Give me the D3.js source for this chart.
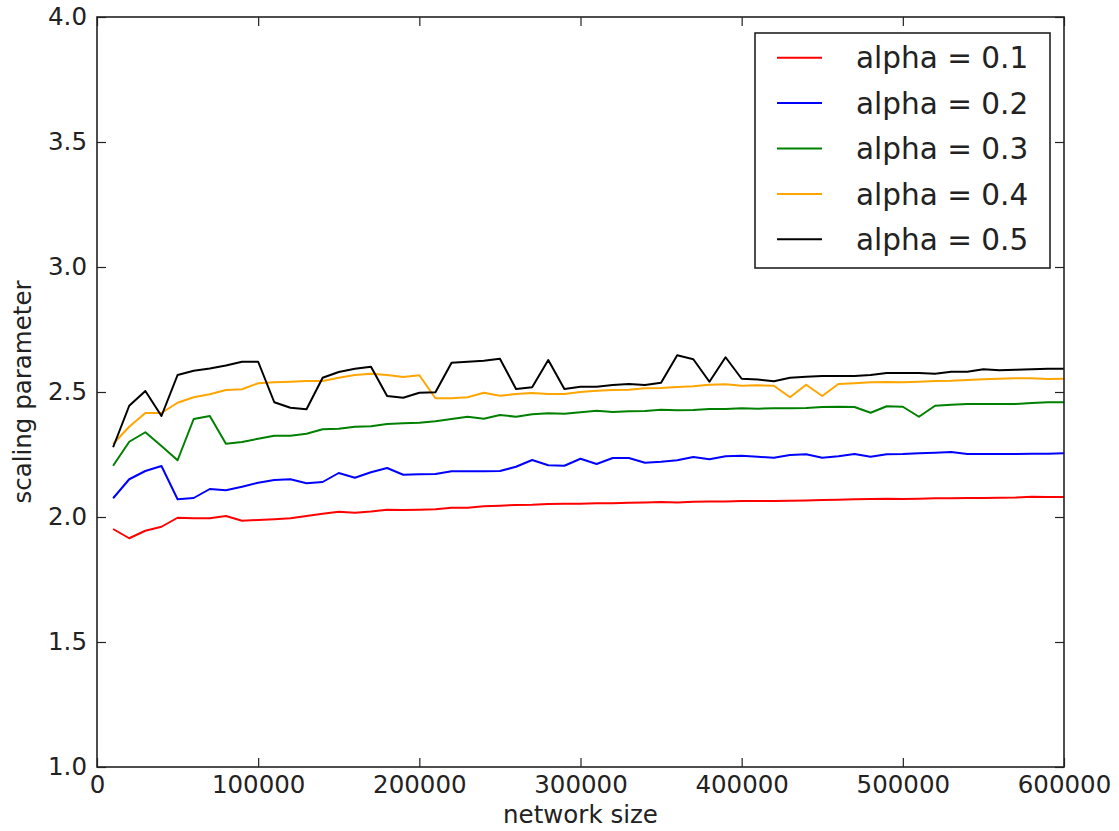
<!DOCTYPE html>
<html>
<head>
<meta charset="utf-8">
<script src="https://cdn.jsdelivr.net/npm/d3@7"></script>
<style>
  html, body { margin: 0; padding: 0; background: #fff; }
  svg { display: block; font-family: "DejaVu Sans", sans-serif; }
</style>
</head>
<body>
<svg id="chart" width="1119" height="831"></svg>
<script>
// Network sizes on the x axis
const networkSizes = [
  10000, 20000, 30000, 40000, 50000, 60000, 70000, 80000, 90000, 100000,
  110000, 120000, 130000, 140000, 150000, 160000, 170000, 180000, 190000, 200000,
  210000, 220000, 230000, 240000, 250000, 260000, 270000, 280000, 290000, 300000,
  310000, 320000, 330000, 340000, 350000, 360000, 370000, 380000, 390000, 400000,
  410000, 420000, 430000, 440000, 450000, 460000, 470000, 480000, 490000, 500000,
  510000, 520000, 530000, 540000, 550000, 560000, 570000, 580000, 590000, 600000
];

// Fitted scaling parameter for each alpha
const alpha01 = [
  1.952, 1.915, 1.945, 1.961, 1.997, 1.995, 1.995, 2.004, 1.985, 1.988,
  1.991, 1.995, 2.004, 2.013, 2.021, 2.017, 2.022, 2.029, 2.028, 2.029,
  2.031, 2.037, 2.037, 2.043, 2.045, 2.048, 2.049, 2.052, 2.053, 2.053,
  2.055, 2.055, 2.057, 2.058, 2.060, 2.058, 2.061, 2.062, 2.062, 2.064,
  2.064, 2.064, 2.065, 2.066, 2.068, 2.069, 2.071, 2.072, 2.073, 2.072,
  2.073, 2.075, 2.075, 2.076, 2.076, 2.077, 2.078, 2.081, 2.080, 2.080
];
const alpha02 = [
  2.075, 2.151, 2.184, 2.204, 2.071, 2.076, 2.112, 2.107, 2.121, 2.137,
  2.148, 2.151, 2.135, 2.140, 2.176, 2.157, 2.179, 2.196, 2.169, 2.171,
  2.172, 2.183, 2.183, 2.183, 2.184, 2.201, 2.228, 2.207, 2.205, 2.233,
  2.212, 2.236, 2.236, 2.217, 2.221, 2.227, 2.240, 2.231, 2.243, 2.245,
  2.241, 2.237, 2.248, 2.251, 2.237, 2.243, 2.252, 2.241, 2.251, 2.252,
  2.255, 2.257, 2.260, 2.252, 2.252, 2.252, 2.252, 2.253, 2.253, 2.255
];
const alpha03 = [
  2.205, 2.301, 2.339, 2.284, 2.227, 2.392, 2.404, 2.293, 2.300, 2.313,
  2.325, 2.325, 2.333, 2.351, 2.353, 2.361, 2.363, 2.372, 2.375, 2.377,
  2.383, 2.392, 2.401, 2.393, 2.408, 2.401, 2.411, 2.415, 2.413, 2.419,
  2.425, 2.420, 2.423, 2.424, 2.429, 2.427, 2.428, 2.432, 2.432, 2.435,
  2.433, 2.435, 2.435, 2.436, 2.440, 2.441, 2.440, 2.417, 2.443, 2.441,
  2.401, 2.445, 2.449, 2.452, 2.452, 2.452, 2.452, 2.456, 2.459, 2.459
];
const alpha04 = [
  2.292, 2.361, 2.416, 2.416, 2.457, 2.479, 2.491, 2.508, 2.511, 2.535,
  2.539, 2.541, 2.544, 2.544, 2.557, 2.568, 2.573, 2.568, 2.560, 2.567,
  2.475, 2.475, 2.479, 2.497, 2.485, 2.492, 2.496, 2.492, 2.492, 2.500,
  2.505, 2.508, 2.509, 2.515, 2.516, 2.520, 2.523, 2.529, 2.531, 2.525,
  2.527, 2.525, 2.479, 2.529, 2.484, 2.532, 2.535, 2.539, 2.540, 2.539,
  2.541, 2.544, 2.545, 2.548, 2.551, 2.553, 2.555, 2.555, 2.552, 2.553
];
const alpha05 = [
  2.279, 2.445, 2.504, 2.404, 2.568, 2.585, 2.594, 2.606, 2.621, 2.621,
  2.459, 2.437, 2.431, 2.557, 2.580, 2.593, 2.601, 2.484, 2.477, 2.497,
  2.499, 2.617, 2.621, 2.625, 2.633, 2.512, 2.519, 2.628, 2.512, 2.521,
  2.521, 2.528, 2.532, 2.528, 2.537, 2.647, 2.631, 2.541, 2.639, 2.553,
  2.550, 2.543, 2.557, 2.561, 2.564, 2.564, 2.564, 2.568, 2.576, 2.576,
  2.576, 2.573, 2.581, 2.581, 2.591, 2.587, 2.589, 2.591, 2.593, 2.593
];

const seriesLabels = ["alpha = 0.1", "alpha = 0.2", "alpha = 0.3", "alpha = 0.4", "alpha = 0.5"];
const seriesColors = ["#ff0000", "#0000ff", "#008000", "#ffa500", "#000000"];
const seriesValues = [alpha01, alpha02, alpha03, alpha04, alpha05];

const xTicks = [0, 100000, 200000, 300000, 400000, 500000, 600000];
const yTicks = [1.0, 1.5, 2.0, 2.5, 3.0, 3.5, 4.0];

const svg = d3.select("#chart");
const margin = { left: 97, right: 55, top: 17, bottom: 64 };
const W = 1119, H = 831;
const innerW = W - margin.left - margin.right;
const innerH = H - margin.top - margin.bottom;

const x = d3.scaleLinear().domain([0, 600000]).range([0, innerW]);
const y = d3.scaleLinear().domain([1.0, 4.0]).range([innerH, 0]);

const g = svg.append("g").attr("transform", `translate(${margin.left},${margin.top})`);

// Lines
const line = d3.line()
  .x((d, i) => x(networkSizes[i]))
  .y(d => y(d));

seriesValues.forEach((vals, k) => {
  g.append("path")
    .datum(vals)
    .attr("fill", "none")
    .attr("stroke", seriesColors[k])
    .attr("stroke-width", 2)
    .attr("stroke-linejoin", "round")
    .attr("d", line);
});

// Axes with inward ticks on all four sides
const tickLen = 9;
const fmtX = d3.format("d");
const fmtY = d3.format(".1f");
const axisFont = "24.5px";
const ink = "#222";

function styleAxis(sel) {
  sel.select(".domain").remove();
  sel.selectAll(".tick line").attr("stroke", ink).attr("stroke-width", 1.2);
  sel.selectAll(".tick text").attr("fill", ink).style("font-size", axisFont)
    .style("font-family", "'DejaVu Sans', sans-serif");
}

const xBottom = g.append("g").attr("transform", `translate(0,${innerH})`)
  .call(d3.axisBottom(x).tickValues(xTicks).tickFormat(fmtX).tickSizeInner(-tickLen).tickSizeOuter(0).tickPadding(12));
styleAxis(xBottom);
xBottom.selectAll(".tick text").attr("dy", "0.71em").attr("y", 9);

const xTop = g.append("g")
  .call(d3.axisTop(x).tickValues(xTicks).tickFormat("").tickSizeInner(-tickLen).tickSizeOuter(0));
styleAxis(xTop);

const yLeft = g.append("g")
  .call(d3.axisLeft(y).tickValues(yTicks).tickFormat(fmtY).tickSizeInner(-tickLen).tickSizeOuter(0));
styleAxis(yLeft);
yLeft.selectAll(".tick text").attr("x", -10);

const yRight = g.append("g").attr("transform", `translate(${innerW},0)`)
  .call(d3.axisRight(y).tickValues(yTicks).tickFormat("").tickSizeInner(-tickLen).tickSizeOuter(0));
styleAxis(yRight);

// Frame
g.append("rect")
  .attr("x", 0).attr("y", 0)
  .attr("width", innerW).attr("height", innerH)
  .attr("fill", "none")
  .attr("stroke", ink)
  .attr("stroke-width", 1.6);

// Axis titles
svg.append("text")
  .attr("x", margin.left + innerW / 2)
  .attr("y", 823)
  .attr("text-anchor", "middle")
  .attr("fill", ink)
  .style("font-size", "24.5px")
  .text("network size");

svg.append("text")
  .attr("transform", `translate(31,${margin.top + innerH / 2}) rotate(-90)`)
  .attr("text-anchor", "middle")
  .attr("fill", ink)
  .style("font-size", "24.5px")
  .text("scaling parameter");

// Legend
const legend = svg.append("g").attr("transform", "translate(755,33)");
legend.append("rect")
  .attr("width", 295).attr("height", 235)
  .attr("fill", "#fff")
  .attr("stroke", ink)
  .attr("stroke-width", 1.6);

seriesLabels.forEach((label, k) => {
  const cy = 24.7 + k * 45.4;
  legend.append("line")
    .attr("x1", 22).attr("x2", 67)
    .attr("y1", cy).attr("y2", cy)
    .attr("stroke", seriesColors[k])
    .attr("stroke-width", 2);
  legend.append("text")
    .attr("x", 101).attr("y", cy)
    .attr("dy", "0.36em")
    .attr("fill", ink)
    .style("font-size", "29.5px")
    .text(label);
});
</script>
</body>
</html>
